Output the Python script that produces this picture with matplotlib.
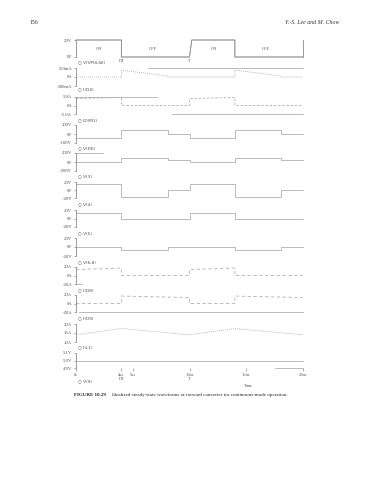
import matplotlib
matplotlib.use("Agg")
import matplotlib.pyplot as plt

plt.rcParams['font.family'] = ['Liberation Serif', 'DejaVu Sans']

W, H = 371, 480
X0, X1 = 76, 303          # plot area left/right (px)

# ---------------- data ----------------
t_pulse = [0, 4, 4, 10, 10.2, 14, 14, 20]
v_pulse = [20, 20, 0, 0, 20, 20, 0, 0]

t_sw = [0, 4, 4, 8.1, 8.1, 10, 10, 14, 14, 18.1, 18.1, 20]
i_reset = [0, 0, 0.23, 0.03, 0, 0, 0, 0, 0.23, 0.03, 0, 0]        # A
id_m1 = [4.1, 4.7, 0, 0, 0, 0, 4.1, 4.7, 0, 0, 0, 0]
v_wind = [-45, -45, 45, 45, 0, 0, -45, -45, 45, 45, 0, 0]
v_drain = [0, 0, 90, 90, 45, 45, 0, 0, 90, 90, 45, 45]
v_sec = [15, 15, -17, -17, 0, 0, 15, 15, -17, -17, 0, 0]
v_rect = [12, 12, 0, 0, 0, 0, 12, 12, 0, 0, 0, 0]
v_68 = [0, 0, -7, -7, 0, 0, 0, 0, -7, -7, 0, 0]
i_d8 = [14, 17.5, 0, 0, 0, 0, 14, 17.5, 0, 0, 0, 0]
i_d9 = [0, 0, 17.5, 15.1, 15.1, 14, 0, 0, 17.5, 15.1, 15.1, 14]
t_il = [0, 4, 10, 14, 20]
i_l1 = [14, 17.5, 14, 17.5, 14]
t_out = [0, 20]
v_out = [5.0, 5.0]

trace_names = ["V(VPULSE)", "I(D4)", "ID(M1)", "V(D6)", "V(3)", "V(4)",
               "V(5)", "V(6,8)", "I(D8)", "I(D9)", "I(L1)", "V(9)"]

x_ticks = [0, 4, 5, 10, 15, 20]
x_ticklabels = ["0s", "4us\nDT", "5us", "10us\nT", "15us", "20us"]

# panel geometry: (top px, bottom px, ymin, ymax, tick values, tick labels)
panels = [
    (40, 57, 0, 20, [0, 20], ["0V", "20V"]),
    (68, 86, -0.3, 0.3, [-0.3, 0, 0.3], ["-300mA", "0A", "300mA"]),
    (97, 114, -5, 5, [-5, 0, 5], ["-5.0A", "0A", "5.0A"]),
    (125, 143, -100, 100, [-100, 0, 100], ["-100V", "0V", "100V"]),
    (153, 171, -200, 200, [-200, 0, 200], ["-200V", "0V", "200V"]),
    (182, 198, -20, 20, [-20, 0, 20], ["-20V", "0V", "20V"]),
    (210, 227, -20, 20, [-20, 0, 20], ["-20V", "0V", "20V"]),
    (238, 256, -20, 20, [-20, 0, 20], ["-20V", "0V", "20V"]),
    (267, 284, -20, 20, [-20, 0, 20], ["-20A", "0A", "20A"]),
    (295, 312, -20, 20, [-20, 0, 20], ["-20A", "0A", "20A"]),
    (324, 342, 10, 20, [10, 15, 20], ["10A", "15A", "20A"]),
    (353, 368, 4.9, 5.1, [4.9, 5.0, 5.1], ["4.9V", "5.0V", "5.1V"]),
]
series = [
    (t_pulse, v_pulse, '-'),
    (t_sw, i_reset, (0, (1.2, 1.2))),
    (t_sw, id_m1, (0, (3, 2))),
    (t_sw, v_wind, '-'),
    (t_sw, v_drain, '-'),
    (t_sw, v_sec, '-'),
    (t_sw, v_rect, '-'),
    (t_sw, v_68, '-'),
    (t_sw, i_d8, (0, (4, 3))),
    (t_sw, i_d9, (0, (4, 3))),
    (t_il, i_l1, (0, (1.2, 1.2))),
    (t_out, v_out, '-'),
]
label_y = [62, 89, 120, 148, 176, 204, 233, 262, 290, 318, 347, 381]

GRAY = "#8c8c8c"
LIGHT = "#b0b0b0"
TXT = "#505050"

fig = plt.figure(figsize=(W / 100, H / 100), dpi=100)

def fx(px):
    return px / W

def fy(py):
    return 1 - py / H

axes = []
for (top, bot, lo, hi, tv, tl), (tx, ty, ls) in zip(panels, series):
    ax = fig.add_axes([fx(X0), fy(bot), (X1 - X0) / W, (bot - top) / H])
    ax.set_xlim(0, 20)
    ax.set_ylim(lo, hi)
    ax.patch.set_alpha(0)
    for s in ("top", "right", "bottom"):
        ax.spines[s].set_visible(False)
    ax.spines["left"].set_color(GRAY)
    ax.spines["left"].set_linewidth(0.6)
    ax.set_yticks(tv)
    ax.set_yticklabels(tl)
    ax.tick_params(axis="y", length=1.8, width=0.5, colors=GRAY, labelsize=3.4,
                   pad=1, labelcolor=TXT)
    ax.set_xticks([])
    ax.plot(tx, ty, color=LIGHT, lw=0.6, ls=ls, clip_on=False)
    axes.append(ax)

# visible pieces of plot frames
frame_bits = [(1, 0.3, 6.3, 20), (2, 5, 0, 7.1), (2, -5, 8.5, 20), (4, 200, 0, 2.4),
              (8, -20, 0, 0.5), (9, -20, 0.3, 20), (11, 4.9, 17.5, 20)]
for i, yv, a, b in frame_bits:
    axes[i].plot([a, b], [yv, yv], color=LIGHT, lw=0.6, clip_on=False)
axes[0].spines["right"].set_visible(True)
axes[0].spines["right"].set_color(GRAY)
axes[0].spines["right"].set_linewidth(0.6)
axes[0].plot(t_pulse, v_pulse, color=GRAY, lw=0.6, clip_on=False)

# ON / OFF annotations
for xt, s in zip([2.0, 6.8, 12.2, 16.7], ["ON", "OFF", "ON", "OFF"]):
    axes[0].text(xt, 10, s, fontsize=3.2, ha="center", va="center", color=TXT)

# DT / T markers under first panel
axes[0].text(4, -5, "DT", fontsize=3.2, ha="center", va="center", color=TXT, clip_on=False)
axes[0].text(10, -5, "T", fontsize=3.2, ha="center", va="center", color=TXT, clip_on=False)

# x axis of last panel
axl = axes[-1]
axl.set_xticks(x_ticks)
axl.set_xticklabels(x_ticklabels, linespacing=0.9)
axl.tick_params(axis="x", length=1.8, width=0.5, colors=GRAY, labelsize=3.2, pad=2,
                labelcolor=TXT)
for lab in axl.get_xticklabels():
    lab.set_verticalalignment("top")
fig.text(fx(248), fy(386), "Time", fontsize=3.2, ha="center", va="center", color=TXT)

# trace names
for name, yy in zip(trace_names, label_y):
    fig.text(fx(78), fy(yy), "\u25cb " + name, fontsize=3.1, ha="left", va="center",
             color=TXT, family=['DejaVu Sans'])

# page header & caption
fig.text(fx(30), fy(23), "156", fontsize=4.2, ha="left", va="center", color="#333333")
fig.text(fx(339), fy(23), "Y.-S. Lee and M. Chow", fontsize=4.2, ha="right", va="center",
         style="italic", color="#333333")
fig.text(fx(74), fy(395), "FIGURE 10.29", fontsize=3.6, ha="left", va="center",
         weight="bold", color="#222222")
fig.text(fx(112), fy(395), "Idealized steady-state waveforms of forward converter for continuous-mode operation.",
         fontsize=3.6, ha="left", va="center", color="#222222")

fig.savefig("out.png", dpi=100, facecolor="white")
